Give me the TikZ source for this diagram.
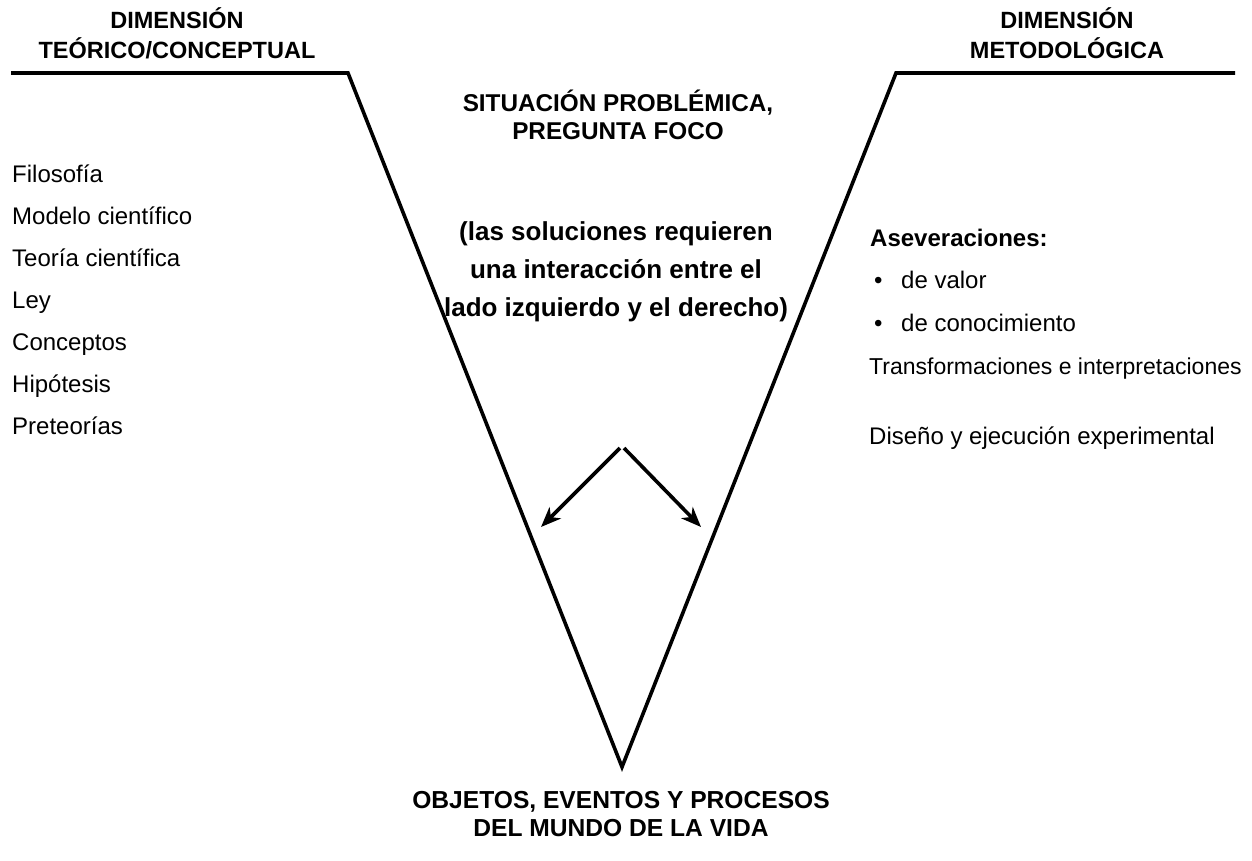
\documentclass[tikz,border=0pt]{standalone}
\usepackage{fontspec}
\setmainfont{Liberation Sans}
\usetikzlibrary{arrows.meta}

\newcommand{\headfont}{\fontsize{23.5}{30}\bfseries\selectfont}
\newcommand{\bodyfont}{\fontsize{24}{42}\selectfont}

\tikzset{
  head/.style={font=\headfont, align=center, inner sep=0pt, anchor=base},
  item/.style={font=\bodyfont, inner sep=0pt, anchor=base west},
  vline/.style={line width=3.6pt, line join=miter},
  ray/.style={line width=3.6pt, -{Stealth[length=20pt, width=16pt, inset=6pt]}}
}

\begin{document}
\begin{tikzpicture}[x=1pt,y=-1pt]
    \useasboundingbox (0,0) rectangle (1252,860);

    % the V
    \coordinate (ltl) at (11,73);
    \coordinate (ltr) at (348,73);
    \coordinate (vtx) at (622,767);
    \coordinate (rtl) at (896,73);
    \coordinate (rtr) at (1235,73);
    \draw[vline] (ltl) -- (ltr) -- (vtx) -- (rtl) -- (rtr);

    % headings (base = last line)
    \node[head] (teo) at (177,58) {DIMENSIÓN\\TEÓRICO/CONCEPTUAL};
    \node[head] (met) at (1067,58) {DIMENSIÓN\\METODOLÓGICA};
    \node[head, font=\fontsize{24.3}{28}\bfseries\selectfont] (foco) at (618,139) {SITUACIÓN PROBLÉMICA,\\PREGUNTA FOCO};
    \node[head, font=\fontsize{26}{38}\bfseries\selectfont] (sol) at (616,316) {(las soluciones requieren\\una interacción entre el\\lado izquierdo y el derecho)};
    \node[head, font=\fontsize{24.6}{28}\bfseries\selectfont] (obj) at (621,836) {OBJETOS, EVENTOS Y PROCESOS\\DEL MUNDO DE LA VIDA};

    % left side
    \node[item] (fil) at (12,182) {Filosofía};
    \node[item] (mod) at (12,224) {Modelo científico};
    \node[item] (teor) at (12,266) {Teoría científica};
    \node[item] (ley) at (12,308) {Ley};
    \node[item] (con) at (12,350) {Conceptos};
    \node[item] (hip) at (12,392) {Hipótesis};
    \node[item] (pre) at (12,434) {Preteorías};

    % right side
    \node[item, font=\fontsize{24}{42}\bfseries\selectfont] (ase) at (870,246) {Aseveraciones:};
    \node[item] (b1) at (874,288) {•};
    \node[item] (val) at (901,288) {de valor};
    \node[item] (b2) at (874,331) {•};
    \node[item] (cono) at (901,331) {de conocimiento};
    \node[item, font=\fontsize{23}{42}\selectfont] (tra) at (869,374) {Transformaciones e interpretaciones};
    \node[item] (dis) at (869,444) {Diseño y ejecución experimental};

    % arrows
    \coordinate (apl) at (620,448);
    \coordinate (apr) at (624,448);
    \coordinate (tipl) at (541,527);
    \coordinate (tipr) at (701,527);
    \draw[ray] (apl) -- (tipl);
    \draw[ray] (apr) -- (tipr);
\end{tikzpicture}
\end{document}
